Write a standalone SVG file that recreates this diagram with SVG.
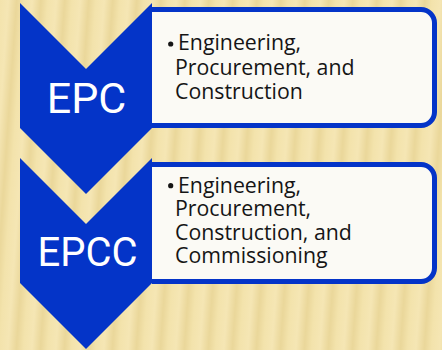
<svg xmlns="http://www.w3.org/2000/svg" width="442" height="350" viewBox="0 0 442 350">
  <defs>
    <!-- soft vertical stripes of the parchment backdrop -->
    <linearGradient id="stripeGrad" x1="0" y1="0" x2="1" y2="0">
      <stop offset="0" stop-color="#F3E3AC"/>
      <stop offset="0.35" stop-color="#F5E6B4"/>
      <stop offset="0.7" stop-color="#EAD79A"/>
      <stop offset="1" stop-color="#F3E3AC"/>
    </linearGradient>
    <pattern id="stripes" width="24" height="350" patternUnits="userSpaceOnUse" patternTransform="skewX(-4)">
      <rect width="24" height="350" fill="url(#stripeGrad)"/>
    </pattern>
    <style>
      .chevron { fill: #0434C8; }
      .panel { fill: #FBFAF5; stroke: #0434C8; stroke-width: 5; }
      .label { font-family: Roboto, "Liberation Sans", Arial, sans-serif; fill: #FFFFFF; text-anchor: middle; }
      .item { font-family: "Open Sans", "Liberation Sans", Arial, sans-serif; font-size: 21.3px; fill: #151515; }
      .bullet { fill: #151515; }
    </style>
  </defs>

  <!-- backdrop -->
  <rect width="442" height="350" fill="#F0DEA2"/>
  <rect width="442" height="350" fill="url(#stripes)"/>

  <!-- EPC step -->
  <g id="step-epc">
    <path class="panel" d="M152,9.5 H421 A13.5,13.5 0 0 1 434.5,23 V112 A13.5,13.5 0 0 1 421,125.5 H152"/>
    <path class="chevron" d="M20,3 L86,69 L152,3 V128 L86,194 L20,128 Z"/>
    <text class="label" x="86.5" y="113.3" font-size="43">EPC</text>
    <circle class="bullet" cx="170.7" cy="44" r="2.6"/>
    <text class="item">
      <tspan x="178" y="50">Engineering,</tspan>
      <tspan x="175" y="74.5">Procurement, and</tspan>
      <tspan x="175" y="98.5">Construction</tspan>
    </text>
  </g>

  <!-- EPCC step -->
  <g id="step-epcc">
    <path class="panel" d="M152,164.5 H421 A13.5,13.5 0 0 1 434.5,178 V268 A13.5,13.5 0 0 1 421,281.5 H152"/>
    <path class="chevron" d="M20,158 L86,224 L152,158 V283 L86,349 L20,283 Z"/>
    <text class="label" x="87.5" y="266" font-size="40">EPCC</text>
    <circle class="bullet" cx="170.7" cy="185.7" r="2.6"/>
    <text class="item">
      <tspan x="178" y="192.5">Engineering,</tspan>
      <tspan x="175" y="216">Procurement,</tspan>
      <tspan x="175" y="239.5">Construction, and</tspan>
      <tspan x="175" y="263">Commissioning</tspan>
    </text>
  </g>

  <!-- no connectors: the chevrons themselves carry the flow -->
  <g id="connectors"/>
</svg>
